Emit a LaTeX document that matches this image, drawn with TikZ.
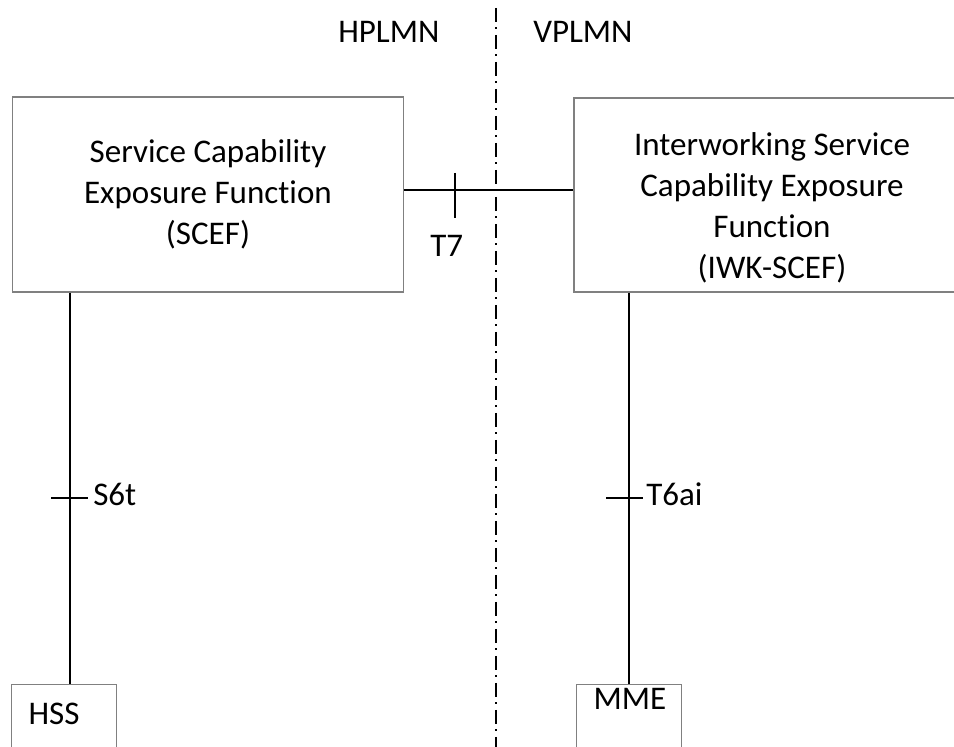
\documentclass[tikz,border=0pt]{standalone}
\usepackage{fontspec}
\setmainfont{Carlito}[Ligatures=NoCommon]
\usetikzlibrary{calc}
\tikzset{
  unit/.style={draw=black!50, line width=0.9pt, inner sep=0pt, align=center,
    font=\fontsize{23.5}{29.2}\selectfont},
  smallunit/.style={draw=black!50, line width=0.9pt, anchor=north west,
    inner xsep=0.425cm, inner ysep=0pt, text width=1.775cm,
    font=\fontsize{23.5}{28}\selectfont},
  link/.style={line width=0.9pt, color=black},
  plmn/.style={line width=1.4pt, color=black,
    dash pattern=on 9.96pt off 3.9pt on 1.07pt off 4.27pt},
  tag/.style={anchor=base west, inner sep=0pt, font=\fontsize{23.5}{28}\selectfont}
}

\begin{document}
\begin{tikzpicture}[x=0.025cm, y=-0.025cm]
			%%%%% START %%%%%
			\useasboundingbox (0, 0) rectangle (954, 747);
			\clip (0, 0) rectangle (954, 747);
			
			\draw[plmn] (496, 8) -- (496, 760);
			\node[tag] (hplmn) at (338, 43) {HPLMN};
			\node[tag] (vplmn) at (533, 43) {VPLMN};
			
			\node[unit, minimum width=9.775cm, minimum height=4.875cm] (scef) at (208, 194.5)
				{Service Capability\\Exposure Function\\(SCEF)};
			\node[unit, minimum width=9.9cm, minimum height=4.85cm] (iwk) at (772, 195)
				{\rule{0pt}{1.2cm}Interworking Service\\Capability Exposure\\Function\\(IWK-SCEF)};
			
			\node[smallunit, align=left, text height=1cm, text depth=1.65cm] (hss) at (11, 684) {HSS};
			\node[smallunit, align=center, text height=0.625cm, text depth=2.025cm] (mme) at (576, 684) {MME};
			
			% T7
			\coordinate (t7) at (455, 190);
			\draw[link] (scef.east |- t7) -- (iwk.west |- t7);
			\draw[link] (t7) ++(0, -17) -- ++(0, 45);
			\node[tag] (t7label) at (430, 257) {T7};
			
			% S6t
			\coordinate (s6t) at (70, 498);
			\draw[link] (scef.south -| s6t) -- (hss.north -| s6t);
			\draw[link] (s6t) ++(-19, 0) -- ++(37, 0);
			\node[tag] (s6tlabel) at (93, 505) {S6t};
			
			% T6ai
			\coordinate (t6ai) at (629, 498);
			\draw[link] (iwk.south -| t6ai) -- (mme.north -| t6ai);
			\draw[link] (t6ai) ++(-23, 0) -- ++(37, 0);
			\node[tag] (t6ailabel) at (646, 505) {T6ai};
			%%%%% END %%%%%
\end{tikzpicture}
\end{document}
